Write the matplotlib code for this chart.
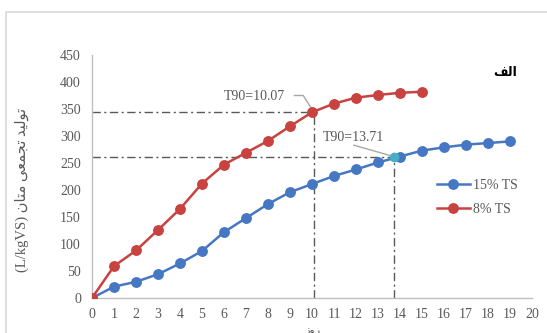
import matplotlib.pyplot as plt
from matplotlib.patches import Rectangle

# cumulative methane yield per day
days_15 = list(range(0, 20))
yield_15 = [0, 21, 30, 44, 64, 87, 122, 148, 174, 196, 211, 226, 238, 251, 262, 273, 279, 284, 287, 290]
days_8 = list(range(0, 16))
yield_8 = [0, 59, 88, 126, 165, 212, 247, 269, 291, 318, 344, 360, 371, 376, 380, 382]

# T90 points (day, yield)
t90_8 = (10.07, 345)
t90_15 = (13.71, 262)

x_ticks = list(range(0, 21))
y_ticks = list(range(0, 451, 50))

# pre-shaped Persian strings (presentation forms, visual order)
ylabel_fa = "(L/kgVS) " + "\uFEE5\uFE8E\uFE98\uFEE3" + " " + "\uFEF0\uFECC\uFEE4\uFEA0\uFE97" + " " + "\uFEAA\uFEF4\uFEDF\uFEEE\uFE97"
xlabel_fa = "\uFEAF\uFEED\uFEAD"
panel_fa = "\uFED2\uFEDF\uFE8D"

blue = '#4677c2'
red = '#c8423f'
grey_txt = '#595959'
serif = ['Liberation Serif', 'DejaVu Serif']

fig = plt.figure(figsize=(5.47, 3.33), dpi=100)
fig.patches.append(Rectangle((6 / 547, -0.05), 1.0, (333 - 12) / 333 + 0.05,
                             transform=fig.transFigure, fill=False,
                             edgecolor='#d9d9d9', linewidth=1.2))

ax = fig.add_axes([0.1682, 0.1051, 0.8044, 0.7297])

# guide lines to the T90 points
for tx, ty in (t90_8, t90_15):
    ax.plot([0, tx], [ty, ty], color=grey_txt, lw=1, ls=(0, (6, 2.5, 1.5, 2.5)), zorder=1)
    ax.plot([tx, tx], [0, ty], color=grey_txt, lw=1, ls=(0, (6, 2.5, 1.5, 2.5)), zorder=1)

ax.plot(days_15, yield_15, color=blue, lw=1.8, marker='o', ms=6.8, label='15% TS', zorder=3)
ax.plot(days_8, yield_8, color=red, lw=1.8, marker='o', ms=6.8, label='8% TS', zorder=3)
ax.plot([t90_15[0]], [t90_15[1]], marker='o', ms=6, color='#4bacc6', zorder=4)

# leader lines and labels
ax.plot([9.2, 9.6, t90_8[0]], [375, 375, t90_8[1]], color='#a6a6a6', lw=1, zorder=2)
ax.text(7.4, 374, 'T90=10.07', fontsize=10, family=serif, color=grey_txt, ha='center', va='center')
ax.plot([11.9, t90_15[0]], [283, t90_15[1]], color='#a6a6a6', lw=1, zorder=2)
ax.text(11.9, 297, 'T90=13.71', fontsize=10, family=serif, color=grey_txt, ha='center', va='center')

ax.set_xlim(0, 20)
ax.set_ylim(0, 450)
ax.set_xticks(x_ticks)
ax.set_yticks(y_ticks)
ax.tick_params(length=0, labelsize=10, colors=grey_txt)
ax.tick_params(axis='y', pad=8)
ax.tick_params(axis='x', pad=7)
for lab in ax.get_xticklabels() + ax.get_yticklabels():
    lab.set_family(serif)
for side in ('top', 'right'):
    ax.spines[side].set_visible(False)
for side in ('left', 'bottom'):
    ax.spines[side].set_color('#bfbfbf')
    ax.spines[side].set_linewidth(1)

leg = ax.legend(loc='upper left', bbox_to_anchor=(0.755, 0.54), frameon=False,
                prop={'family': serif, 'size': 10}, handlelength=2.4,
                handletextpad=0.2, labelspacing=0.75, labelcolor=grey_txt)

fig.text(0.040, 0.43, ylabel_fa, rotation=90, fontsize=10.5, color=grey_txt,
         family=['Liberation Serif', 'DejaVu Sans'], ha='center', va='center')
fig.text(313 / 547, -0.008, xlabel_fa, fontsize=8, color=grey_txt,
         family=['DejaVu Sans'], ha='center', va='bottom')
fig.text(505 / 547, 1 - 73 / 333, panel_fa, fontsize=9, fontweight='bold',
         family=['DejaVu Sans'], ha='center', va='center')

fig.savefig('out.png', dpi=100)
